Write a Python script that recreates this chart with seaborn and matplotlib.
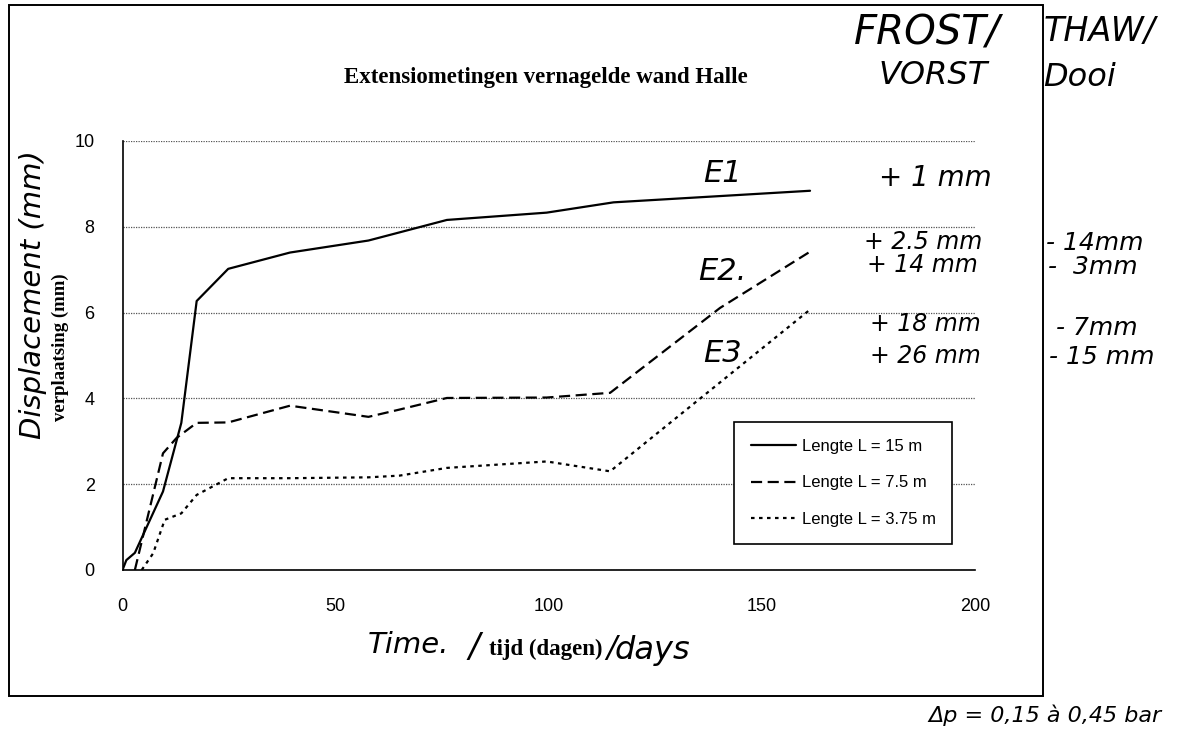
import numpy as np
import pandas as pd
import matplotlib
matplotlib.use("Agg")
import matplotlib.pyplot as plt
import matplotlib.patches as mpatches
import seaborn as sns

# ---- data ----
days_e1 = [0, 0.9, 2.9, 9.5, 13.8, 17.4, 24.8, 39.3, 57.7, 65, 76.1, 99.5, 115.2, 161.3]
disp_e1 = [0, 0.23, 0.40, 1.83, 3.43, 6.27, 7.02, 7.40, 7.68, 7.87, 8.16, 8.33, 8.57, 8.84]

days_e2 = [2.9, 9.5, 12.7, 17.4, 24.8, 39.3, 57.7, 65, 76.1, 99.5, 114.4, 140.2, 161.3]
disp_e2 = [0, 2.72, 3.08, 3.43, 3.44, 3.83, 3.57, 3.74, 4.01, 4.02, 4.13, 6.11, 7.42]

days_e3 = [4.5, 7.2, 9.9, 13.8, 17.4, 24.8, 39.3, 57.7, 65, 76.1, 99.5, 114.4, 161.3]
disp_e3 = [0, 0.39, 1.17, 1.32, 1.75, 2.14, 2.14, 2.16, 2.20, 2.38, 2.53, 2.30, 6.07]

series_labels = ["Lengte L = 15 m", "Lengte L = 7.5 m", "Lengte L = 3.75 m"]
x_ticks = [0, 50, 100, 150, 200]
y_ticks = [0, 2, 4, 6, 8, 10]

df = pd.concat([
    pd.DataFrame({"day": days_e1, "disp": disp_e1, "serie": series_labels[0]}),
    pd.DataFrame({"day": days_e2, "disp": disp_e2, "serie": series_labels[1]}),
    pd.DataFrame({"day": days_e3, "disp": disp_e3, "serie": series_labels[2]}),
], ignore_index=True)

sns.set_theme(style="white")
plt.rcParams["font.family"] = ["Liberation Sans", "DejaVu Sans"]
plt.rcParams["text.color"] = "black"
plt.rcParams["legend.labelcolor"] = "black"

W, H = 1178, 735
fig = plt.figure(figsize=(W / 100, H / 100), dpi=100)
ax = fig.add_axes([122.5 / W, 1 - 570 / H, (975 - 122.5) / W, (570 - 141) / H])

sns.lineplot(data=df, x="day", y="disp", style="serie", sort=False,
             dashes={series_labels[0]: "", series_labels[1]: (5, 2.5), series_labels[2]: (1.6, 2)},
             color="black", linewidth=1.6, ax=ax, estimator=None)

ax.set_xlim(0, 200)
ax.set_ylim(0, 10)
ax.set_xticks(x_ticks)
ax.set_yticks(y_ticks)
ax.set_xticklabels([str(v) for v in x_ticks], fontsize=13)
ax.set_yticklabels([str(v) for v in y_ticks], fontsize=13)
ax.tick_params(axis="x", direction="inout", length=10, width=1, pad=15, colors="black")
ax.tick_params(axis="y", direction="inout", length=8, width=1, pad=16, colors="black")
ax.grid(axis="y", linestyle=(0, (1, 1)), color="#555555", linewidth=0.9)
ax.grid(axis="x", visible=False)
for s in ["top", "right"]:
    ax.spines[s].set_visible(False)
for s in ["left", "bottom"]:
    ax.spines[s].set_color("black")
    ax.spines[s].set_linewidth(1.2)
ax.set_xlabel("")
ax.set_ylabel("")

leg = ax.legend(loc="upper left", bbox_to_anchor=((734 - 122.5) / 852.5, (570 - 422) / 429),
                frameon=True, fancybox=False, fontsize=12, handlelength=2.7, labelspacing=1.3,
                borderpad=1.0, handletextpad=0.35, borderaxespad=0, title=None)
leg.get_frame().set_edgecolor("black")
leg.get_frame().set_linewidth(1.2)
leg.get_frame().set_alpha(1)
for t in leg.get_texts():
    t.set_color("black")

# title
fig.text(546 / W, 1 - 77 / H, "Extensiometingen vernagelde wand Halle", ha="center", va="center",
         fontsize=16.5, fontweight="bold", family="Liberation Serif", color="black")

# axis labels
hand = dict(family="DejaVu Sans", style="italic", color="black")
fig.text(33 / W, 1 - 295 / H, "Displacement (mm)", rotation=90, ha="center", va="center", fontsize=21, **hand)
fig.text(60 / W, 1 - 347 / H, "verplaatsing (mm)", rotation=90, ha="center", va="center",
         fontsize=13.5, fontweight="bold", family="Liberation Serif", color="black")
fig.text(408 / W, 1 - 645 / H, "Time.", ha="center", va="center", fontsize=21, **hand)
fig.text(474 / W, 1 - 648 / H, "/", ha="center", va="center", fontsize=24, **hand)
fig.text(546 / W, 1 - 649 / H, "tijd (dagen)", ha="center", va="center",
         fontsize=16.5, fontweight="bold", family="Liberation Serif", color="black")
fig.text(611 / W, 1 - 648 / H, "/", ha="center", va="center", fontsize=22, **hand)
fig.text(652 / W, 1 - 650 / H, "days", ha="center", va="center", fontsize=23, **hand)

# handwritten annotations
notes = [
    (927, 33, "FROST/", 29), (933, 76, "VORST", 23),
    (1100, 31, "THAW/", 24), (1080, 78, "Dooi", 23),
    (723, 174, "E1", 22), (722, 271, "E2.", 22), (723, 353, "E3", 22),
    (935, 178, "+ 1 mm", 20),
    (923, 242, "+ 2.5 mm", 17), (922, 265, "+ 14 mm", 17),
    (1095, 243, "- 14mm", 18), (1093, 267, "-  3mm", 18),
    (925, 324, "+ 18 mm", 17), (925, 356, "+ 26 mm", 17),
    (1097, 328, "- 7mm", 18), (1102, 357, "- 15 mm", 18),
    (1045, 715, "Δp = 0,15 à 0,45 bar", 16),
]
for x, y, t, fs in notes:
    fig.text(x / W, 1 - y / H, t, ha="center", va="center", fontsize=fs, **hand)

# frame round the chart
fig.patches.append(mpatches.Rectangle((9 / W, 1 - 696 / H), (1043 - 9) / W, (696 - 5) / H,
                                      fill=False, edgecolor="black", linewidth=1.4,
                                      transform=fig.transFigure, figure=fig))

fig.savefig("out.png", dpi=100, facecolor="white")
